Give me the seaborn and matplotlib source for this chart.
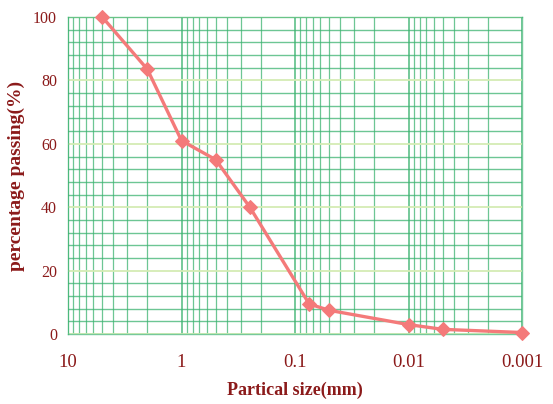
import numpy as np
import pandas as pd
import seaborn as sns
import matplotlib.pyplot as plt
from matplotlib.ticker import FixedLocator, MultipleLocator, LogLocator, NullFormatter

# dados
tamanho_mm = [5, 2, 1, 0.5, 0.25, 0.075, 0.05, 0.01, 0.005, 0.001]
passante = [100, 83.5, 61, 55, 40, 9.5, 7.5, 3, 1.5, 0.5]
x_ticks = [10, 1, 0.1, 0.01, 0.001]
x_tick_labels = ['10', '1', '0.1', '0.01', '0.001']

dados = pd.DataFrame({'tamanho': tamanho_mm, 'passante': passante})

sns.set_style('white')
plt.rcParams['font.family'] = ['Liberation Serif', 'DejaVu Serif']

cor_texto = '#8b1a1a'
cor_linha = '#f47a7a'

fig = plt.figure(figsize=(5.53, 4.04), dpi=100)
ax = fig.add_axes([0.123, 0.173, 0.821, 0.785])

ax.set_xscale('log')
ax.set_xlim(10, 0.001)
ax.set_ylim(0, 100)

# grade
ax.xaxis.set_major_locator(FixedLocator(x_ticks))
ax.xaxis.set_minor_locator(LogLocator(base=10, subs=np.arange(2, 10)))
ax.xaxis.set_minor_formatter(NullFormatter())
ax.yaxis.set_major_locator(MultipleLocator(20))
ax.yaxis.set_minor_locator(MultipleLocator(4))
ax.grid(which='major', axis='x', color='#3cb371', lw=1.1, alpha=0.9)
ax.grid(which='minor', axis='x', color='#3cb371', lw=0.9, alpha=0.75)
ax.grid(which='major', axis='y', color='#d4ecb4', lw=1.3)
ax.grid(which='minor', axis='y', color='#3cb371', lw=1.0, alpha=0.75)
ax.set_axisbelow(True)
for s in ax.spines.values():
    s.set_color('#3cb371')
    s.set_alpha(0.7)
    s.set_linewidth(1.0)

sns.lineplot(data=dados, x='tamanho', y='passante', ax=ax, color=cor_linha,
             marker='D', markersize=7.5, markeredgecolor=cor_linha, lw=2.4,
             clip_on=False, zorder=5)

ax.set_xticks(x_ticks)
ax.set_xticklabels(x_tick_labels)
ax.tick_params(axis='x', which='both', length=0, pad=14, labelsize=13.5, labelcolor=cor_texto)
ax.tick_params(axis='y', which='both', length=0, pad=8, labelsize=11.5, labelcolor=cor_texto)

ax.set_xlabel('Partical size(mm)', fontsize=13, fontweight='bold', color=cor_texto, labelpad=8)
ax.set_ylabel('percentage passing(%)', fontsize=14, fontweight='bold', color=cor_texto, labelpad=6)

fig.savefig('out.png', dpi=100)
